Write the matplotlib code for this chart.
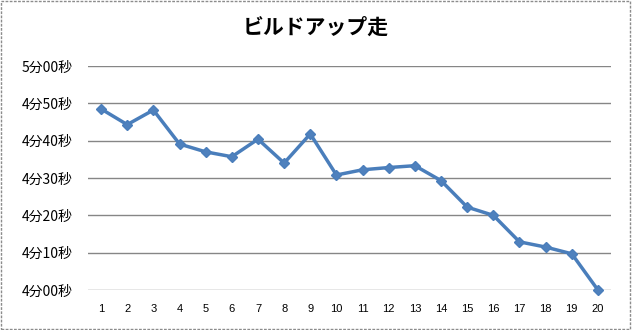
import matplotlib
matplotlib.use("Agg")
import matplotlib.pyplot as plt
from matplotlib.patches import Rectangle

plt.rcParams['font.family'] = ['Noto Sans CJK JP', 'DejaVu Sans']

title = "ビルドアップ走"
laps = list(range(1, 21))
# seconds per lap (4min = 240 s)
times = [288.5, 284.3, 288.2, 279.1, 277.0, 275.7, 280.4, 274.0, 281.8, 270.8,
         272.2, 272.8, 273.3, 269.3, 262.2, 260.0, 252.9, 251.5, 249.7, 240.0]
ytick_vals = [240, 250, 260, 270, 280, 290, 300]
ytick_labels = ["4分00秒", "4分10秒", "4分20秒", "4分30秒", "4分40秒", "4分50秒", "5分00秒"]

fig = plt.figure(figsize=(6.32, 3.30), dpi=100)
ax = fig.add_axes([88/632, 1 - 290/330, (611-88)/632, (290-66)/330])

ax.plot(laps, times, color='#4A7EBB', linewidth=2.5, marker='D', markersize=5.5,
        markerfacecolor='#4F81BD', markeredgecolor='#4A7EBB', zorder=3, clip_on=False)

ax.set_xlim(0.5, 20.5)
ax.set_ylim(240, 300)
ax.set_yticks(ytick_vals)
ax.set_yticklabels(ytick_labels, fontsize=10)
ax.set_xticks(laps)
ax.set_xticklabels([str(v) for v in laps], fontsize=8, family=['Liberation Sans', 'DejaVu Sans'])
ax.tick_params(axis='both', length=0)
ax.tick_params(axis='y', pad=11)
ax.tick_params(axis='x', pad=10)
ax.grid(axis='y', color='#868686', linewidth=1)
ax.set_axisbelow(True)
for s in ax.spines.values():
    s.set_visible(False)

fig.text(0.5, 1 - 27/330, title, ha='center', va='center', fontsize=15, fontweight='bold')

fig.patches.append(Rectangle((0.001, 0.002), 0.996, 0.994, transform=fig.transFigure,
                             fill=False, edgecolor='#8c8c8c', linewidth=1, linestyle=(0, (2, 1))))

fig.savefig("out.png", dpi=100)
